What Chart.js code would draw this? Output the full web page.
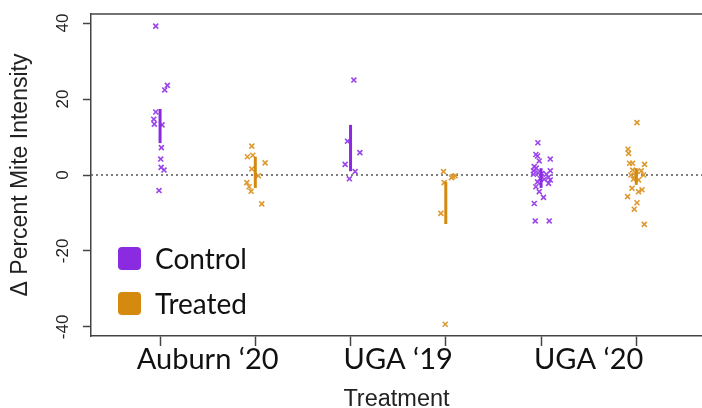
<!DOCTYPE html>
<html>
<head>
<meta charset="utf-8">
<script src="https://cdn.jsdelivr.net/npm/chart.js@4/dist/chart.umd.min.js"></script>
<style>
  html, body { margin: 0; padding: 0; background: #fff; }
  #wrap { position: relative; width: 702px; height: 408px; }
  canvas { display: block; }
  .leg { position: absolute; left: 118px; display: flex; align-items: center; font-family: Lato, sans-serif; font-size: 28px; color: #111; }
  .sw { width: 23px; height: 23px; border-radius: 4px; margin-right: 14px; }
</style>
</head>
<body>
<div id="wrap">
  <canvas id="c" width="702" height="408"></canvas>
  <div class="leg" style="top:241px;"><div class="sw" style="background:#8A2BE2"></div><span>Control</span></div>
  <div class="leg" style="top:286px;"><div class="sw" style="background:#D4890F"></div><span>Treated</span></div>
</div>
<script>
// ---- data ----
const categories = ["Auburn \u201820", "UGA \u201819", "UGA \u201820"];
const groups = ["Control", "Treated"];
const yTicks = [-40, -20, 0, 20, 40];

// Control: y values and horizontal jitter per site
const controlAuburn20 = [39.2, 23.6, 22.4, 16.6, 14.7, 13.4, 13.2, 7.2, 4.2, 2.0, 1.3, -4.1];
const controlAuburn20Jitter = [-0.045, 0.077, 0.049, -0.045, -0.066, -0.060, 0.021, 0.014, 0.007, 0.011, 0.042, -0.011];
const controlUGA19 = [25.0, 8.9, 5.9, 2.8, 0.9, -1.0];
const controlUGA19Jitter = [0.035, -0.032, 0.098, -0.057, 0.048, -0.012];
const controlUGA20 = [8.5, 5.4, 5.0, 3.7, 4.2, 2.2, 1.8, 1.1, 1.1, 0.6, 0.4, 0.2, 0.2, -0.6, -0.9, -1.1, -1.3, -2.2, -1.8, -3.1, -4.4, -5.9, -7.5, -12.1, -12.1];
const controlUGA20Jitter = [-0.033, -0.054, -0.037, -0.019, 0.097, -0.071, -0.050, -0.079, 0.097, -0.033, 0.009, 0.055, -0.079, 0.079, -0.008, 0.034, 0.097, 0.079, -0.037, -0.054, -0.019, 0.026, -0.071, -0.061, 0.086];

// Treated
const treatedAuburn20 = [7.6, 4.8, 5.2, 3.2, 1.6, -0.2, -2.0, -3.1, -4.3, -7.6];
const treatedAuburn20Jitter = [-0.037, -0.083, -0.026, 0.103, -0.037, 0.033, -0.089, -0.065, -0.044, 0.068];
const treatedUGA19 = [0.9, -0.4, -0.2, -0.7, -2.0, -10.1, -39.3];
const treatedUGA19Jitter = [-0.024, 0.075, 0.099, 0.060, -0.017, -0.051, -0.006];
const treatedUGA20 = [13.8, 6.8, 5.7, 3.1, 3.1, 2.8, 1.3, 0.9, 1.1, 0, -0.2, 0, -1.1, -1.3, -3.5, -3.9, -4.4, -5.7, -7.3, -9.0, -13.0];
const treatedUGA20Jitter = [0.007, -0.087, -0.081, -0.070, -0.039, 0.087, -0.039, 0.007, 0.053, -0.056, -0.011, 0.077, -0.029, 0.024, -0.045, 0.060, 0.024, -0.091, 0.007, -0.021, 0.084];

// interval bars (low, high) per site
const controlLow  = [8.4, 1.0, -3.4];
const controlHigh = [17.4, 13.2, 1.8];
const treatedLow  = [-3.4, -12.9, -2.6];
const treatedHigh = [4.8, -1.8, 1.8];

// ---- build datasets ----
const controlSets = [[controlAuburn20, controlAuburn20Jitter], [controlUGA19, controlUGA19Jitter], [controlUGA20, controlUGA20Jitter]];
const treatedSets = [[treatedAuburn20, treatedAuburn20Jitter], [treatedUGA19, treatedUGA19Jitter], [treatedUGA20, treatedUGA20Jitter]];

const colors = { Control: { line: '#8A2BE2', pt: '#9A45EC' }, Treated: { line: '#D4890F', pt: '#DE9A30' } };

function pos(site, g) { return site * 2 + 1 + g; }

function pointsFor(sets, g) {
  const out = [];
  sets.forEach(([ys, js], s) => ys.forEach((y, i) => out.push({ x: pos(s, g) + js[i], y })));
  return out;
}

const datasets = [];
[[controlLow, controlHigh, 0], [treatedLow, treatedHigh, 1]].forEach(([lo, hi, g]) => {
  lo.forEach((l, s) => {
    datasets.push({
      type: 'scatter', showLine: true, order: 0,
      data: [{ x: pos(s, g), y: l }, { x: pos(s, g), y: hi[s] }],
      borderColor: colors[groups[g]].line, borderWidth: 3, pointRadius: 0, borderCapStyle: 'butt'
    });
  });
});
datasets.push({ type: 'scatter', order: 1, label: 'Control', data: pointsFor(controlSets, 0),
  pointStyle: 'crossRot', pointRadius: 3.5, borderWidth: 1.6, borderColor: colors.Control.pt, backgroundColor: colors.Control.pt });
datasets.push({ type: 'scatter', order: 1, label: 'Treated', data: pointsFor(treatedSets, 1),
  pointStyle: 'crossRot', pointRadius: 3.5, borderWidth: 1.6, borderColor: colors.Treated.pt, backgroundColor: colors.Treated.pt });

const xMin = 0.275, xMax = 6.69;
datasets.push({ type: 'scatter', showLine: true, order: 2, data: [{ x: xMin, y: 0 }, { x: xMax, y: 0 }],
  borderColor: '#555', borderWidth: 1.6, borderDash: [2, 3], pointRadius: 0 });

const xTickVals = [];
categories.forEach((c, i) => { xTickVals.push(2 * i + 1, 2 * i + 1.5, 2 * i + 2); });

const boxPlugin = {
  id: 'box',
  afterDraw(chart) {
    const { ctx, chartArea } = chart;
    ctx.save();
    ctx.strokeStyle = '#444';
    ctx.lineWidth = 1.5;
    ctx.beginPath();
    ctx.moveTo(chartArea.left, chartArea.top);
    ctx.lineTo(chartArea.right, chartArea.top);
    ctx.stroke();
    ctx.restore();
  }
};

new Chart(document.getElementById('c'), {
  type: 'scatter',
  data: { datasets },
  plugins: [boxPlugin],
  options: {
    responsive: false,
    animation: false,
    layout: { autoPadding: false, padding: { top: 14, right: 0, left: 0, bottom: 0 } },
    plugins: { legend: { display: false }, tooltip: { enabled: false } },
    scales: {
      x: {
        type: 'linear', min: xMin, max: xMax,
        afterBuildTicks: (s) => { s.ticks = xTickVals.map(v => ({ value: v })); },
        afterFit: (s) => { s.height = 72; s.paddingLeft = 0; s.paddingRight = 0; },
        grid: { drawOnChartArea: false, drawTicks: true, tickLength: 10, tickWidth: 1.5,
          tickColor: (c) => (c.tick && Number.isInteger(c.tick.value)) ? '#444' : 'rgba(0,0,0,0)' },
        border: { display: true, color: '#444', width: 1.5 },
        ticks: {
          autoSkip: false, maxRotation: 0, minRotation: 0, padding: -4, color: '#111',
          font: { family: 'Lato', size: 29 },
          callback: (v) => { const k = (v - 1.5) / 2; return Number.isInteger(k) ? categories[k] : ''; }
        },
        title: { display: true, text: 'Treatment', color: '#222',
          font: { family: 'Liberation Sans', size: 23.5, lineHeight: 0.8 }, padding: { top: 0, bottom: -1 } }
      },
      y: {
        type: 'linear', min: -42.4, max: 42.4,
        afterBuildTicks: (s) => { s.ticks = yTicks.map(v => ({ value: v })); },
        afterFit: (s) => { s.width = 91; s.paddingTop = 0; s.paddingBottom = 0; },
        grid: { drawOnChartArea: false, drawTicks: true, tickLength: 8, tickWidth: 1.5, tickColor: '#444' },
        border: { display: true, color: '#444', width: 1.5 },
        ticks: { minRotation: 90, maxRotation: 90, crossAlign: 'center', padding: 7, color: '#222',
          font: { family: 'Liberation Sans', size: 17 } },
        title: { display: true, text: '\u0394 Percent Mite Intensity', color: '#222',
          font: { family: 'Liberation Sans', size: 23, lineHeight: 1.2 }, padding: { top: 7, bottom: 0 } }
      }
    }
  }
});
</script>
</body>
</html>
